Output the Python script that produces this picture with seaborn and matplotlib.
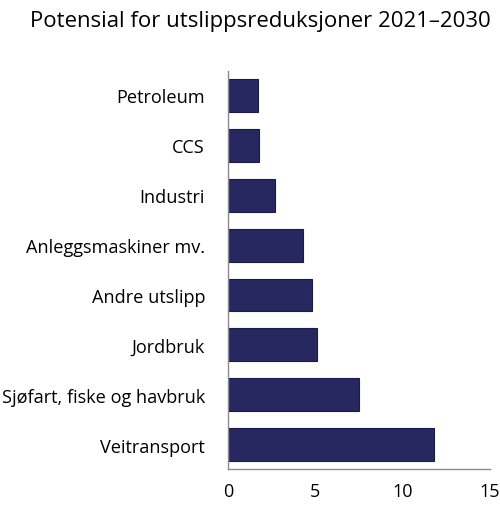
import matplotlib
matplotlib.use("Agg")
import matplotlib.pyplot as plt
import seaborn as sns
import pandas as pd

categories = ["Petroleum", "CCS", "Industri", "Anleggsmaskiner mv.", "Andre utslipp",
              "Jordbruk", "Sjøfart, fiske og havbruk", "Veitransport"]
values = [1.7, 1.8, 2.7, 4.3, 4.8, 5.1, 7.5, 11.8]
x_ticks = [0, 5, 10, 15]

df = pd.DataFrame({"kategori": categories, "potensial": values})

sns.set_style("white")
plt.rcParams['font.family'] = ['Open Sans', 'DejaVu Sans']

fig = plt.figure(figsize=(5, 5.1), dpi=100)
ax = fig.add_axes([0.456, 0.078, 0.524, 0.781])

sns.barplot(data=df, x="potensial", y="kategori", color="#27285f", saturation=1,
            width=0.66, edgecolor="#1b1b48", linewidth=0.8, ax=ax)

ax.set_xlim(0, 15)
ax.set_ylim(7.49, -0.49)
ax.set_xticks(x_ticks)
ax.set_xlabel("")
ax.set_ylabel("")
sns.despine(ax=ax, top=True, right=True)
for s in ["left", "bottom"]:
    ax.spines[s].set_color("#8c8c8c")
    ax.spines[s].set_linewidth(1.0)
ax.tick_params(axis="x", direction="in", length=5, width=1, color="#8c8c8c",
               labelsize=13, pad=9, labelcolor="black")
ax.tick_params(axis="y", length=0, labelsize=13.1, pad=16.5, labelcolor="black")

fig.text(0.521, 0.957, "Potensial for utslippsreduksjoner 2021–2030",
         ha="center", va="center", fontsize=15.9, color="black")

fig.savefig("out.png", dpi=100)
